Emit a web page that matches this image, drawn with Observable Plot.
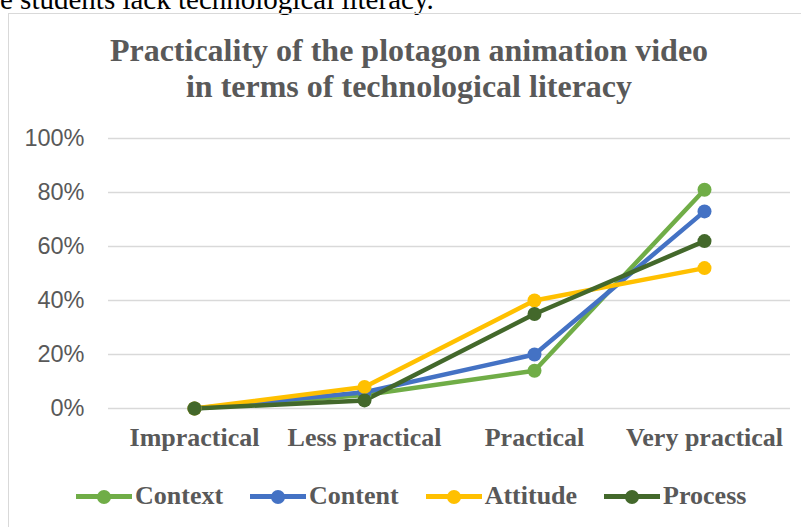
<!DOCTYPE html>
<html><head><meta charset="utf-8">
<script src="https://cdn.jsdelivr.net/npm/d3@7"></script>
<script src="https://cdn.jsdelivr.net/npm/@observablehq/plot@0.6"></script>
<style>
html,body{margin:0;padding:0;background:#fff;}
#wrap{position:relative;width:801px;height:527px;overflow:hidden;}
#top{position:absolute;left:0;top:-17px;font:29px "Liberation Serif";color:#000;white-space:nowrap;}
#frame{position:absolute;left:8px;top:13px;width:800px;height:520px;border:1.5px solid #d9d9d9;box-sizing:border-box;}
#title{position:absolute;left:0;width:818px;top:32px;text-align:center;font:bold 32px/36px "Liberation Serif";color:#595959;}
#chart{position:absolute;left:0;top:0;}
#legend{position:absolute;top:481px;left:76px;display:flex;align-items:center;font:bold 26px "Liberation Serif";color:#595959;}
.item{display:flex;align-items:center;margin-right:27px;}
.sw{position:relative;width:56px;height:26px;margin-right:3px;}
.sw .ln{position:absolute;left:0;right:0;top:11px;height:4.5px;}
.sw .dt{position:absolute;left:21px;top:6.5px;width:14px;height:14px;border-radius:50%;}
</style></head>
<body>
<div id="wrap">
<div id="top">e students lack technological literacy.</div>
<div id="frame"></div>
<div id="chart"></div>
<div id="title">Practicality of the plotagon animation video<br>in terms of technological literacy</div>
<div id="legend"></div>
</div>
<script>
const categories = ["Impractical", "Less practical", "Practical", "Very practical"];
const seriesNames = ["Context", "Content", "Attitude", "Process"];
const seriesColors = ["#70AD47", "#4472C4", "#FFC000", "#43682B"];
const contextValues = [0, 0.05, 0.14, 0.81];
const contentValues = [0, 0.06, 0.20, 0.73];
const attitudeValues = [0, 0.08, 0.40, 0.52];
const processValues = [0, 0.03, 0.35, 0.62];
const yTicks = [0, 0.2, 0.4, 0.6, 0.8, 1.0];

const allValues = [contextValues, contentValues, attitudeValues, processValues];
const data = [];
seriesNames.forEach((s, i) => categories.forEach((c, j) => data.push({series: s, cat: c, value: allValues[i][j]})));

const chart = Plot.plot({
  width: 801, height: 527,
  marginTop: 138, marginBottom: 119, marginLeft: 108, marginRight: 11,
  style: {background: "transparent", overflow: "visible"},
  x: {type: "band", domain: categories, padding: 0, label: null},
  y: {domain: [0, 1], label: null},
  color: {domain: seriesNames, range: seriesColors},
  marks: [
    Plot.ruleY(yTicks, {stroke: "#d9d9d9", strokeWidth: 1.5}),
    Plot.axisY(yTicks, {tickSize: 0, tickPadding: 24, tickFormat: d3.format(".0%"), fontSize: 23.5, fontFamily: "Liberation Sans", fill: "#595959", label: null}),
    Plot.axisX({tickSize: 0, tickPadding: 19, fontSize: 26, fontWeight: "bold", fontFamily: "Liberation Serif", fill: "#595959", label: null}),
    Plot.line(data, {x: "cat", y: "value", z: "series", stroke: "series", strokeWidth: 4.5, strokeLinejoin: "round"}),
    Plot.dot(data, {x: "cat", y: "value", fill: "series", r: 7})
  ]
});
document.getElementById("chart").appendChild(chart);

const lg = document.getElementById("legend");
seriesNames.forEach((s, i) => {
  const it = document.createElement("div"); it.className = "item";
  it.innerHTML = `<div class="sw"><div class="ln" style="background:${seriesColors[i]}"></div><div class="dt" style="background:${seriesColors[i]}"></div></div><span>${s}</span>`;
  lg.appendChild(it);
});
</script>
</body></html>
